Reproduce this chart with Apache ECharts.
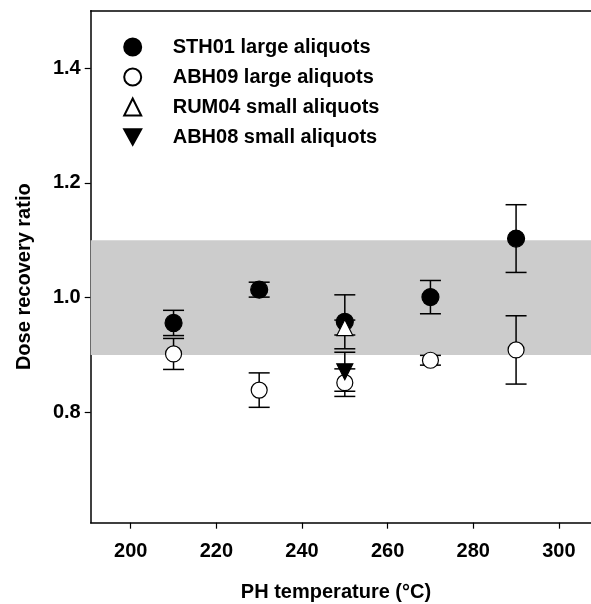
<!DOCTYPE html>
<html>
<head>
<meta charset="utf-8">
<script src="https://cdn.jsdelivr.net/npm/echarts@6/dist/echarts.min.js"></script>
<style>
html,body{margin:0;padding:0;background:#fff;}
#chart{width:591px;height:604px;}
</style>
</head>
<body>
<div id="chart"></div>
<script>
// ---- data ----
const seriesNames = ['STH01 large aliquots', 'ABH09 large aliquots', 'RUM04 small aliquots', 'ABH08 small aliquots'];
const sth01X = [210, 230, 250, 270, 290];
const sth01Y = [0.956, 1.014, 0.958, 1.001, 1.103];
const sth01Err = [0.022, 0.013, 0.047, 0.029, 0.059];
const abh09X = [210, 230, 250, 270, 290];
const abh09Y = [0.902, 0.839, 0.852, 0.891, 0.909];
const abh09Err = [0.027, 0.030, 0.024, 0.0085, 0.0595];
const rum04X = [250];
const rum04Y = [0.948];
const rum04Err = [0.013];
const abh08X = [250];
const abh08Y = [0.871];
const abh08Err = [0.034];
const xTicks = [200, 220, 240, 260, 280, 300];
const yTicks = [0.8, 1.0, 1.2, 1.4];
const bandRange = [0.9, 1.1];
const xTitle = 'PH temperature (°C)';
const yTitle = 'Dose recovery ratio';

const FONT = '"Liberation Sans", Arial, sans-serif';
const downTri = 'path://M0,0 L10,0 L5,9 Z';

function rows(xs, ys, es) { return xs.map((x, i) => [x, ys[i], es[i]]); }

function errSeries(data) {
  return {
    type: 'custom',
    silent: true,
    data: data,
    renderItem: function (params, api) {
      const x = api.value(0), y = api.value(1), e = api.value(2);
      const top = api.coord([x, y + e]);
      const bot = api.coord([x, y - e]);
      const hw = 10.5;
      const st = { stroke: '#000', lineWidth: 1.5 };
      return {
        type: 'group',
        children: [
          { type: 'line', shape: { x1: top[0], y1: top[1], x2: bot[0], y2: bot[1] }, style: st },
          { type: 'line', shape: { x1: top[0] - hw, y1: top[1], x2: top[0] + hw, y2: top[1] }, style: st },
          { type: 'line', shape: { x1: bot[0] - hw, y1: bot[1], x2: bot[0] + hw, y2: bot[1] }, style: st }
        ]
      };
    },
    encode: { x: 0, y: 1 }
  };
}

function scat(name, data, symbol, size, fill) {
  return {
    name: name,
    type: 'scatter',
    data: data.map(d => [d[0], d[1]]),
    symbol: symbol,
    symbolSize: size,
    itemStyle: { color: fill, borderColor: '#000', borderWidth: 1.2, opacity: 1 },
    emphasis: { disabled: true }
  };
}

const dSTH = rows(sth01X, sth01Y, sth01Err);
const dABH9 = rows(abh09X, abh09Y, abh09Err);
const dRUM = rows(rum04X, rum04Y, rum04Err);
const dABH8 = rows(abh08X, abh08Y, abh08Err);

const chart = echarts.init(document.getElementById('chart'), null, { renderer: 'canvas' });

const axisLineStyle = { color: '#000', width: 1.5 };

const option = {
  animation: false,
  backgroundColor: '#fff',
  grid: { left: 90.7, top: 10.7, right: 0, bottom: 81.3, containLabel: false },
  xAxis: [
    {
      type: 'value', min: 190.65, max: 307.5, position: 'bottom',
      axisLine: { show: true, onZero: false, lineStyle: axisLineStyle },
      axisTick: { show: true, length: 6, lineStyle: { color: '#000', width: 1.2 }, customValues: xTicks },
      axisLabel: { show: true, margin: 19, customValues: xTicks, fontFamily: FONT, fontSize: 20, fontWeight: 'bold', color: '#000' },
      splitLine: { show: false }
    },
    {
      type: 'value', min: 190.65, max: 307.5, position: 'top',
      axisLine: { show: true, onZero: false, lineStyle: axisLineStyle },
      axisTick: { show: false }, axisLabel: { show: false }, splitLine: { show: false }
    }
  ],
  yAxis: {
    type: 'value', min: 0.608, max: 1.5,
    axisLine: { show: true, onZero: false, lineStyle: axisLineStyle },
    axisTick: { show: true, length: 6, lineStyle: { color: '#000', width: 1.2 }, customValues: yTicks },
    axisLabel: {
      show: true, margin: 10, customValues: yTicks,
      formatter: v => Number(v).toFixed(1),
      fontFamily: FONT, fontSize: 20, fontWeight: 'bold', color: '#000'
    },
    splitLine: { show: false }
  },
  legend: {
    orient: 'vertical',
    left: 123.2,
    top: 37,
    padding: 0,
    itemWidth: 17,
    itemHeight: 17,
    itemGap: 10,
    selectedMode: false,
    data: seriesNames,
    textStyle: { fontFamily: FONT, fontSize: 20, fontWeight: 'bold', color: '#000', padding: [0, 0, 0, 26.5] }
  },
  graphic: [
    {
      type: 'text', silent: true,
      x: 24, y: 276.7, rotation: Math.PI / 2,
      style: { text: yTitle, font: 'bold 20px ' + FONT, fill: '#000', align: 'center', verticalAlign: 'middle' }
    },
    {
      type: 'text', silent: true,
      x: 336, y: 592,
      style: { text: xTitle, font: 'bold 20px ' + FONT, fill: '#000', align: 'center', verticalAlign: 'middle' }
    }
  ],
  series: [
    {
      type: 'scatter', data: [], silent: true, z: 1,
      markArea: {
        silent: true,
        itemStyle: { color: '#cccccc' },
        data: [[{ yAxis: bandRange[0] }, { yAxis: bandRange[1] }]]
      }
    },
    errSeries(dSTH),
    scat(seriesNames[0], dSTH, 'circle', 17, '#000'),
    errSeries(dABH9),
    scat(seriesNames[1], dABH9, 'circle', 16, '#fff'),
    errSeries(dRUM),
    scat(seriesNames[2], dRUM, 'triangle', 16, '#fff'),
    errSeries(dABH8),
    scat(seriesNames[3], dABH8, downTri, 16, '#000')
  ]
};
chart.setOption(option);
</script>
</body>
</html>
